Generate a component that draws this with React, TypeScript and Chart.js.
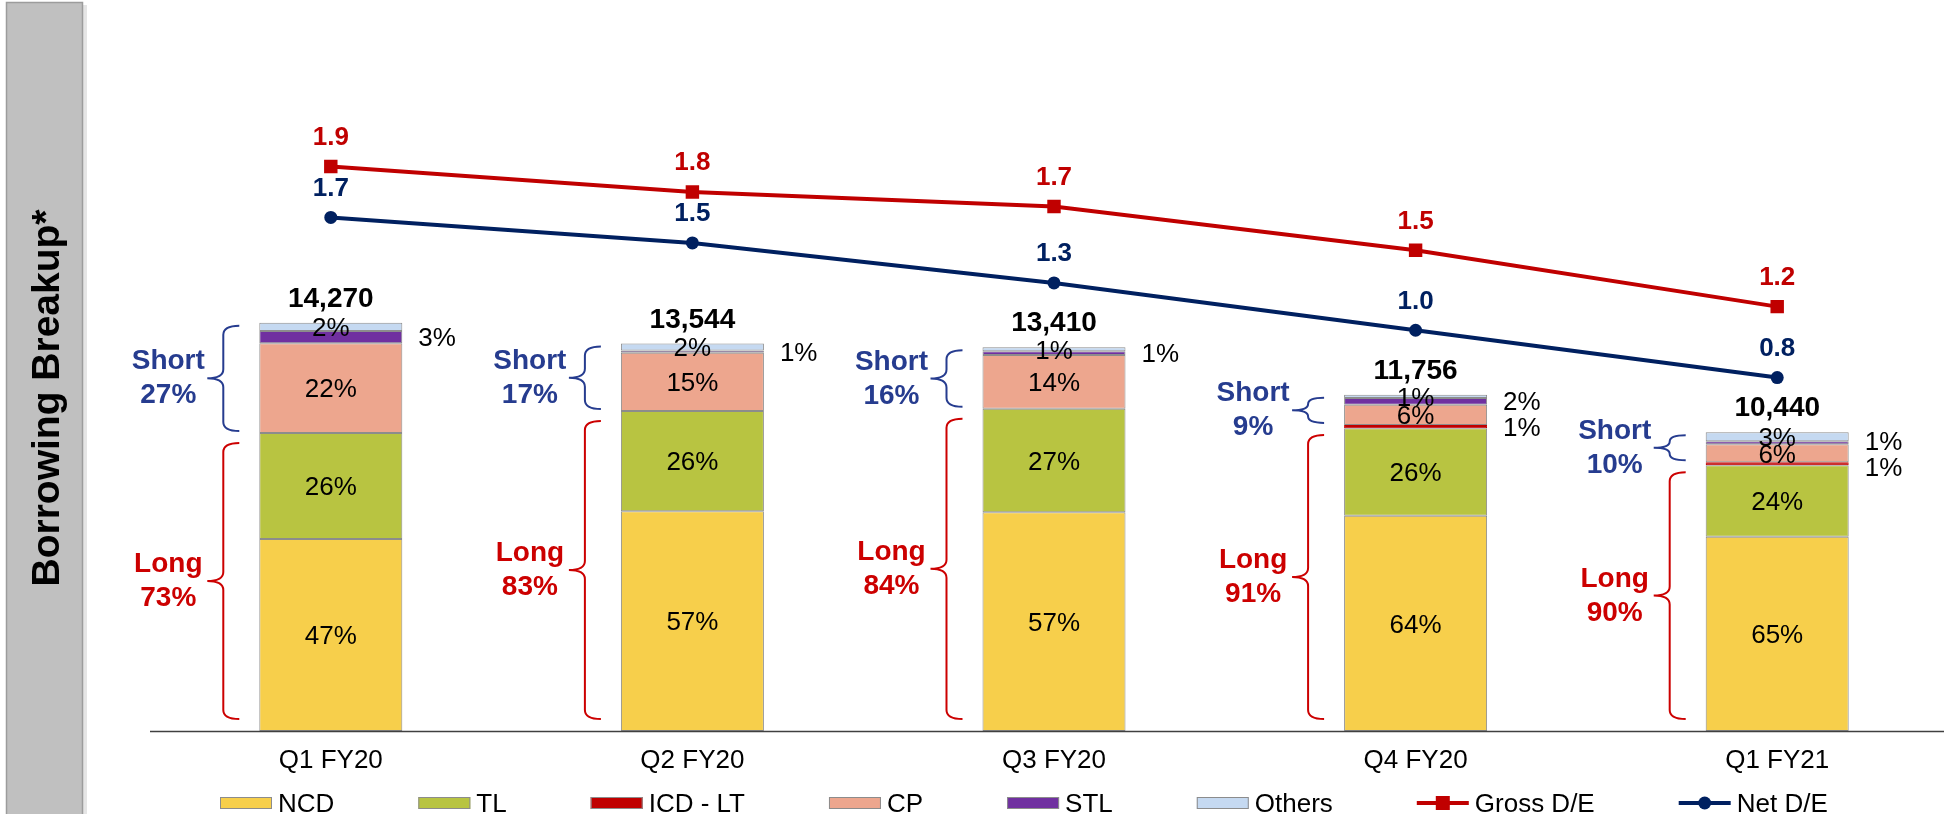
import React, { useEffect, useRef } from "react";
import { Chart, registerables } from "chart.js";

Chart.register(...registerables);

// ---------- data ----------
const categories = ["Q1 FY20", "Q2 FY20", "Q3 FY20", "Q4 FY20", "Q1 FY21"];
const totals = [14270, 13544, 13410, 11756, 10440];
const ncdPct = [47, 56.7, 57, 64, 65];
const tlPct = [26, 25.9, 27, 26, 24];
const icdPct = [0, 0, 0, 1, 1];
const cpPct = [22, 15, 14, 6, 6];
const stlPct = [3, 0.6, 1, 2, 1];
const othersPct = [2, 1.8, 1, 1, 3];
const shortShare = [27, 17, 16, 9, 10];
const longShare = [73, 83, 84, 91, 90];
const grossDE = [1.94, 1.8, 1.72, 1.48, 1.17];
const netDE = [1.66, 1.52, 1.3, 1.04, 0.78];

const W = 1970;
const H = 814;
const FONT = '"Liberation Sans", Arial, Helvetica, sans-serif';

type Series = { name: string; pct: number[]; color: string; border: string; pos: "in" | "right" };
const series: Series[] = [
  { name: "NCD", pct: ncdPct, color: "#F7CF4B", border: "#8C8C8C", pos: "in" },
  { name: "TL", pct: tlPct, color: "#B8C441", border: "#8C8C8C", pos: "in" },
  { name: "ICD - LT", pct: icdPct, color: "#C00000", border: "#C00000", pos: "right" },
  { name: "CP", pct: cpPct, color: "#EDA68E", border: "#8C8C8C", pos: "in" },
  { name: "STL", pct: stlPct, color: "#7030A0", border: "#8C8C8C", pos: "right" },
  { name: "Others", pct: othersPct, color: "#C5D9F1", border: "#8C8C8C", pos: "in" },
];

const GROSS_COLOR = "#C00000";
const NET_COLOR = "#002060";
const SHORT_COLOR = "#263C8F";
const LONG_COLOR = "#CC0000";

function capText(ctx: CanvasRenderingContext2D, text: string, x: number, capCenterY: number, size: number) {
  ctx.fillText(text, x, capCenterY + size * 0.358);
}

function drawBrace(ctx: CanvasRenderingContext2D, xTip: number, xV: number, xP: number, top: number, bottom: number, color: string) {
  const mid = (top + bottom) / 2;
  const r = Math.max(2, Math.min(9, (bottom - top) / 4));
  ctx.save();
  ctx.strokeStyle = color;
  ctx.lineWidth = 2;
  ctx.beginPath();
  ctx.moveTo(xTip, top);
  ctx.quadraticCurveTo(xV, top, xV, top + r);
  ctx.lineTo(xV, mid - r);
  ctx.quadraticCurveTo(xV, mid, xP, mid);
  ctx.quadraticCurveTo(xV, mid, xV, mid + r);
  ctx.lineTo(xV, bottom - r);
  ctx.quadraticCurveTo(xV, bottom, xTip, bottom);
  ctx.stroke();
  ctx.restore();
}

const decor = {
  id: "decor",
  beforeDraw(chart: any) {
    const ctx: CanvasRenderingContext2D = chart.ctx;
    ctx.save();
    ctx.fillStyle = "#FFFFFF";
    ctx.fillRect(0, 0, W, H);
    // left title box
    ctx.fillStyle = "rgba(0,0,0,0.10)";
    ctx.fillRect(83, 5, 4, H);
    ctx.fillStyle = "#C0C0C0";
    ctx.fillRect(6, 2, 77, H);
    ctx.strokeStyle = "#9C9C9C";
    ctx.lineWidth = 1.5;
    ctx.strokeRect(6.5, 2.5, 76, H + 10);
    ctx.translate(59, 398);
    ctx.rotate(-Math.PI / 2);
    ctx.font = `bold 39px ${FONT}`;
    ctx.textAlign = "center";
    ctx.textBaseline = "alphabetic";
    ctx.fillStyle = "#000000";
    ctx.fillText("Borrowing Breakup*", 0, 0);
    ctx.restore();
  },
  afterDraw(chart: any) {
    const ctx: CanvasRenderingContext2D = chart.ctx;
    const area = chart.chartArea;
    ctx.save();

    // x axis line
    ctx.strokeStyle = "#404040";
    ctx.lineWidth = 1.5;
    ctx.beginPath();
    ctx.moveTo(area.left, area.bottom + 0.5);
    ctx.lineTo(W, area.bottom + 0.5);
    ctx.stroke();

    const nBars = series.length;
    ctx.textBaseline = "alphabetic";

    for (let j = 0; j < categories.length; j++) {
      const ncdEl = chart.getDatasetMeta(0).data[j].getProps(["x", "y", "base", "width"], true);
      const cx = ncdEl.x;
      const barW = ncdEl.width;
      const barLeft = cx - barW / 2;
      const barRight = cx + barW / 2;
      const rightLabels: { y: number; text: string }[] = [];

      // segment labels
      ctx.fillStyle = "#000000";
      ctx.font = `26px ${FONT}`;
      ctx.textAlign = "center";
      for (let i = 0; i < nBars; i++) {
        const v = series[i].pct[j];
        if (!v) continue;
        const el = chart.getDatasetMeta(i).data[j].getProps(["x", "y", "base"], true);
        const cy = (el.y + el.base) / 2;
        const text = `${Math.round(v)}%`;
        if (series[i].pos === "in") capText(ctx, text, cx, cy, 26);
        else rightLabels.push({ y: cy, text });
      }
      rightLabels.sort((a, b) => a.y - b.y);
      for (let k = 1; k < rightLabels.length; k++) {
        const a = rightLabels[k - 1];
        const b = rightLabels[k];
        if (b.y - a.y < 26) {
          const m = (a.y + b.y) / 2;
          a.y = m - 13;
          b.y = m + 13;
        }
      }
      ctx.textAlign = "left";
      rightLabels.forEach((l) => capText(ctx, l.text, barRight + 16, l.y, 26));

      // total
      const topEl = chart.getDatasetMeta(nBars - 1).data[j].getProps(["y", "base"], true);
      const cpEl = chart.getDatasetMeta(3).data[j].getProps(["y", "base"], true);
      const barTop = topEl.y;
      ctx.textAlign = "center";
      ctx.font = `bold 28px ${FONT}`;
      capText(ctx, totals[j].toLocaleString("en-US"), cx, barTop - 26, 28);

      // braces + short/long labels
      const longTop = cpEl.base;
      const axisY = ncdEl.base;
      const sTop = barTop + 3;
      const sBot = longTop - 2;
      const lTop = longTop + 10;
      const lBot = axisY - 12;
      drawBrace(ctx, barLeft - 20, barLeft - 36, barLeft - 52, sTop, sBot, SHORT_COLOR);
      drawBrace(ctx, barLeft - 20, barLeft - 36, barLeft - 52, lTop, lBot, LONG_COLOR);
      const lx = barLeft - 91;
      ctx.font = `bold 28px ${FONT}`;
      ctx.textAlign = "center";
      ctx.fillStyle = SHORT_COLOR;
      const sMid = (sTop + sBot) / 2;
      capText(ctx, "Short", lx, sMid - 19, 28);
      capText(ctx, `${shortShare[j]}%`, lx, sMid + 15, 28);
      ctx.fillStyle = LONG_COLOR;
      const lMid = (lTop + lBot) / 2;
      capText(ctx, "Long", lx, lMid - 19, 28);
      capText(ctx, `${longShare[j]}%`, lx, lMid + 15, 28);

      // category label
      ctx.fillStyle = "#000000";
      ctx.font = `26px ${FONT}`;
      capText(ctx, categories[j], cx, 759, 26);
    }

    // D/E labels
    const lineSets = [
      { idx: nBars, data: grossDE, color: GROSS_COLOR },
      { idx: nBars + 1, data: netDE, color: NET_COLOR },
    ];
    ctx.font = `bold 26px ${FONT}`;
    ctx.textAlign = "center";
    lineSets.forEach((ls) => {
      ctx.fillStyle = ls.color;
      chart.getDatasetMeta(ls.idx).data.forEach((pt: any, j: number) => {
        const p = pt.getProps(["x", "y"], true);
        capText(ctx, ls.data[j].toFixed(1), p.x, p.y - 31, 26);
      });
    });

    // legend
    ctx.font = `26px ${FONT}`;
    ctx.textAlign = "left";
    const items = [
      ...series.map((s) => ({ name: s.name, kind: "box", color: s.color })),
      { name: "Gross D/E", kind: "rect", color: GROSS_COLOR },
      { name: "Net D/E", kind: "circle", color: NET_COLOR },
    ];
    let x = 220;
    const legendCap = 803;
    items.forEach((it) => {
      const bw = 52;
      if (it.kind === "box") {
        ctx.fillStyle = it.color;
        ctx.fillRect(x, legendCap - 6, bw, 12);
        ctx.strokeStyle = "#8C8C8C";
        ctx.lineWidth = 1;
        ctx.strokeRect(x + 0.5, legendCap - 5.5, bw - 1, 11);
      } else {
        ctx.strokeStyle = it.color;
        ctx.lineWidth = 4;
        ctx.beginPath();
        ctx.moveTo(x, legendCap);
        ctx.lineTo(x + bw, legendCap);
        ctx.stroke();
        ctx.fillStyle = it.color;
        if (it.kind === "rect") ctx.fillRect(x + bw / 2 - 7, legendCap - 7, 14, 14);
        else {
          ctx.beginPath();
          ctx.arc(x + bw / 2, legendCap, 6.5, 0, Math.PI * 2);
          ctx.fill();
        }
      }
      ctx.fillStyle = "#000000";
      const tx = x + bw + 6;
      capText(ctx, it.name, tx, legendCap, 26);
      x = tx + ctx.measureText(it.name).width + 84;
    });

    ctx.restore();
  },
};

export default function App() {
  const ref = useRef<HTMLCanvasElement>(null);
  useEffect(() => {
    const canvas = ref.current;
    if (!canvas) return;
    const chart = new Chart(canvas, {
      type: "bar",
      data: {
        labels: categories,
        datasets: [
          ...series.map((s) => ({
            type: "bar" as const,
            label: s.name,
            data: totals.map((t, j) => (t * s.pct[j]) / 100),
            backgroundColor: s.color,
            borderColor: s.border,
            borderWidth: 1,
            borderSkipped: false,
            yAxisID: "y",
            order: 2,
            barPercentage: 0.3955,
            categoryPercentage: 1,
          })),
          {
            type: "line" as const,
            label: "Gross D/E",
            data: grossDE,
            yAxisID: "y2",
            borderColor: GROSS_COLOR,
            backgroundColor: GROSS_COLOR,
            borderWidth: 4,
            pointStyle: "rect",
            pointRadius: 9.5,
            pointBorderWidth: 0,
            tension: 0,
            order: 0,
          },
          {
            type: "line" as const,
            label: "Net D/E",
            data: netDE,
            yAxisID: "y2",
            borderColor: NET_COLOR,
            backgroundColor: NET_COLOR,
            borderWidth: 4,
            pointStyle: "circle",
            pointRadius: 6.5,
            pointBorderWidth: 0,
            tension: 0,
            order: 0,
          },
        ],
      } as any,
      options: {
        responsive: false,
        animation: false,
        devicePixelRatio: 1,
        layout: { padding: { left: 150, right: W - 1958, top: 20, bottom: H - 731 } },
        scales: {
          x: { stacked: true, display: false, offset: true },
          y: { stacked: true, display: false, min: 0, max: 24850 },
          y2: { display: false, min: -1.162, max: 2.745 },
        },
        plugins: { legend: { display: false }, tooltip: { enabled: false } },
      } as any,
      plugins: [decor],
    });
    return () => chart.destroy();
  }, []);
  return (
    <div
      style={{
        position: "absolute",
        left: 0,
        top: 0,
        width: 1944,
        height: 814,
        overflow: "hidden",
        background: "#ffffff",
      }}
    >
      <canvas ref={ref} width={W} height={H} style={{ display: "block", width: W, height: H }} />
    </div>
  );
}
